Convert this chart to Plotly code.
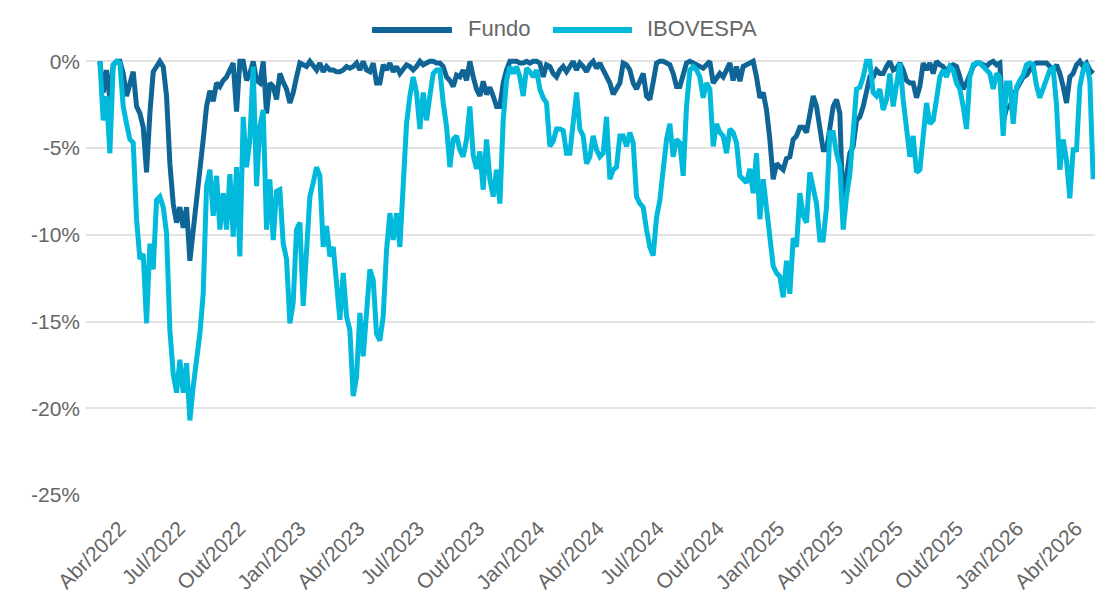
import pandas as pd
import plotly.graph_objects as go

# ---- data (drawdown, %) sampled at regular intervals between start and end ----
start_date = "2022-03-02"
end_date = "2026-04-27"

fundo = [
    0, -1.8, -0.5, -2.2, -0.2, 0, 0, -0.7, -2.0, -1.25,
    -0.6, -2.6, -3.0, -3.8, -6.4, -3.0, -0.6, -0.3, 0, -0.3,
    -2.0, -5.9, -8.2, -9.3, -8.4, -9.6, -8.4, -11.5, -9.5, -8.0,
    -6.25, -4.5, -2.6, -1.7, -2.3, -1.25, -1.45, -1.1, -0.9, -0.5,
    -0.1, -2.9, 0, 0, -1.1, -0.7, 0, -1.1, -1.25, 0,
    -3.0, -1.25, -1.45, -2.2, -0.7, -1.2, -1.6, -2.4, -1.8, -0.9,
    -0.1, -0.2, -0.3, 0, -0.3, -0.5, -0.1, -0.6, -0.3, -0.5,
    -0.5, -0.6, -0.6, -0.5, -0.3, -0.4, -0.3, -0.1, -0.5, 0,
    -0.5, -0.6, -0.1, -1.25, -1.25, -0.2, -0.5, -0.1, -0.6, -0.3,
    -0.7, -0.4, -0.2, -0.3, -0.5, -0.3, 0, -0.2, -0.1, 0,
    0, -0.1, -0.1, -0.3, -0.9, -1.1, -1.45, -0.8, -0.9, -0.5,
    -1.1, 0, -0.9, -1.6, -2.0, -1.15, -1.9, -1.5, -2.0, -2.6,
    -2.6, -1.25, -0.5, 0, 0, 0, -0.1, -0.1, 0, -0.1,
    0, 0, -0.1, -0.9, -0.2, -0.3, -0.7, -0.9, -0.5, -0.3,
    -0.6, -0.3, 0, -0.5, -0.1, -0.3, -0.6, -0.2, 0, -0.4,
    -0.1, -0.5, -0.9, -1.25, -1.9, -1.6, -1.25, -0.1, -0.2, -0.5,
    -1.25, -1.6, -1.1, -0.7, -2.0, -2.2, -1.2, -0.1, 0, 0,
    -0.1, -0.2, -0.7, -1.45, -1.45, -0.7, -0.1, 0, -0.1, -0.2,
    -0.3, -0.4, -0.2, 0, -1.25, -1.0, -0.7, -0.9, -0.4, -0.1,
    -1.1, -0.3, -1.15, -0.3, -0.2, -0.1, 0, -0.9, -2.1, -1.8,
    -2.8, -4.5, -6.8, -5.9, -6.1, -6.25, -5.6, -5.5, -4.5, -4.3,
    -3.8, -3.8, -4.1, -3.0, -2.0, -2.6, -4.1, -5.1, -5.1, -3.9,
    -2.6, -2.2, -3.0, -9.0, -6.6, -5.3, -4.9, -3.4, -3.2, -2.6,
    -1.6, -0.9, -0.9, -0.5, -0.7, -0.7, -0.3, 0, -0.5, -0.4,
    -0.1, -0.5, -1.1, -1.25, -1.25, -2.1, -1.45, -0.1, -0.5, -0.1,
    -0.7, 0, -0.2, -0.3, -0.6, -0.3, -0.2, -0.3, -0.9, -1.6,
    -1.25, -0.7, -0.3, -0.1, -0.1, -0.2, -0.3, -0.1, 0, -0.2,
    -0.1, -3.5, -2.7, -2.6, -2.0, -1.6, -1.25, -0.9, -0.8, -0.5,
    -0.2, -0.1, -0.1, -0.1, -0.1, -0.3, -0.5, -0.2, -0.7, -1.45,
    -2.4, -0.9, -0.7, -0.2, 0, -0.3, -0.1, -0.5, -0.7,
]

ibovespa = [
    0, -3.4, -2.0, -5.3, -0.2, 0, -0.1, -2.6, -3.6, -4.5,
    -4.7, -9.1, -11.4, -11.1, -15.1, -10.5, -12.0, -8.0, -7.8, -8.4,
    -9.9, -15.5, -18.0, -19.1, -17.2, -19.1, -17.4, -20.7, -18.75, -17.4,
    -15.7, -13.4, -7.2, -6.25, -8.9, -6.6, -9.7, -7.6, -9.7, -6.5,
    -10.1, -6.1, -11.25, -3.2, -6.1, -4.5, -0.3, -7.2, -3.75, -2.8,
    -9.7, -6.8, -10.3, -7.5, -7.4, -10.5, -11.4, -15.1, -13.9, -9.7,
    -9.3, -14.1, -10.3, -7.8, -7.0, -6.1, -6.6, -10.7, -9.5, -11.25,
    -10.7, -12.8, -14.9, -12.2, -14.7, -15.5, -19.3, -18.2, -14.5, -17.0,
    -14.1, -12.0, -12.6, -15.7, -16.1, -14.7, -10.9, -8.75, -10.3, -8.75,
    -10.7, -7.2, -3.6, -2.0, -0.9, -1.8, -3.9, -1.8, -3.4, -2.0,
    -0.7, -0.5, -0.5, -2.4, -3.75, -6.1, -4.5, -4.3, -5.1, -5.5,
    -4.5, -2.6, -5.4, -6.2, -5.2, -7.4, -4.5, -6.8, -7.8, -6.25,
    -8.2, -3.4, -1.1, -0.3, -0.7, -0.3, -0.9, -2.0, -0.4, -0.6,
    -0.9, -0.5, -1.6, -2.1, -2.4, -4.9, -4.6, -3.9, -3.9, -4.0,
    -5.3, -5.3, -3.2, -1.8, -3.9, -4.3, -5.9, -5.5, -4.3, -5.1,
    -5.5, -5.3, -3.2, -6.8, -6.25, -6.1, -4.3, -4.3, -4.9, -4.1,
    -4.7, -7.8, -8.2, -8.4, -9.7, -10.7, -11.2, -9.0, -8.0, -6.0,
    -4.5, -3.6, -5.5, -4.5, -4.7, -6.6, -2.6, -0.5, -0.3, -0.5,
    -0.9, -2.1, -1.25, -1.6, -4.9, -3.6, -4.1, -4.3, -5.3, -3.9,
    -4.1, -4.7, -6.6, -6.8, -7.0, -6.2, -7.6, -5.3, -9.1, -6.8,
    -8.6, -10.3, -11.8, -12.2, -12.4, -13.6, -11.5, -13.4, -10.2, -10.7,
    -7.6, -8.9, -9.3, -6.4, -7.2, -8.2, -10.3, -10.3, -8.4, -4.1,
    -4.1, -5.3, -6.0, -9.7, -7.8, -6.5, -4.1, -1.6, -1.5, -0.9,
    0, 0, -1.8, -2.0, -1.6, -2.8, -2.2, -0.7, -2.6, -1.25,
    -0.1, -2.2, -4.1, -5.5, -4.3, -6.4, -6.25, -4.5, -2.4, -3.6,
    -3.4, -2.2, -0.9, -0.5, -0.9, -0.3, -0.5, -1.25, -1.6, -2.6,
    -3.9, -0.9, -0.2, -0.1, -0.1, -0.3, -0.5, -0.7, -1.6, -0.7,
    -0.9, -4.3, -1.25, -1.25, -3.6, -1.5, -1.1, -0.8, -0.2, -0.1,
    -0.2, -1.4, -2.1, -1.6, -0.9, -0.5, -0.4, -2.5, -6.25, -4.5,
    -5.7, -7.9, -5.1, -5.1, -1.45, -0.5, -0.1, -1.1, -6.8,
]

tick_dates = ["2022-04-01", "2022-07-01", "2022-10-01", "2023-01-01", "2023-04-01",
              "2023-07-01", "2023-10-01", "2024-01-01", "2024-04-01", "2024-07-01",
              "2024-10-01", "2025-01-01", "2025-04-01", "2025-07-01", "2025-10-01",
              "2026-01-01", "2026-04-01"]
tick_labels = ["Abr/2022", "Jul/2022", "Out/2022", "Jan/2023", "Abr/2023",
               "Jul/2023", "Out/2023", "Jan/2024", "Abr/2024", "Jul/2024",
               "Out/2024", "Jan/2025", "Abr/2025", "Jul/2025", "Out/2025",
               "Jan/2026", "Abr/2026"]
y_ticks = [0, -5, -10, -15, -20, -25]
y_labels = ["0%", "-5%", "-10%", "-15%", "-20%", "-25%"]

series_names = ["Fundo", "IBOVESPA"]
colors = ["#0F6596", "#00B9DB"]

dates = pd.date_range(start=start_date, end=end_date, periods=len(fundo))

FONT = "Liberation Sans, Arial, sans-serif"
GRAY = "#666666"

fig = go.Figure()
for name, vals, col in zip(series_names, [fundo, ibovespa], colors):
    fig.add_trace(go.Scatter(x=dates, y=vals, name=name, mode="lines",
                             line=dict(color=col, width=5),
                             showlegend=False))

# custom legend (long swatches)
leg_y = 1.0616
fig.add_shape(type="line", xref="paper", yref="paper", x0=0.2834, x1=0.3627,
              y0=leg_y, y1=leg_y, line=dict(color=colors[0], width=6))
fig.add_shape(type="line", xref="paper", yref="paper", x0=0.4628, x1=0.5411,
              y0=leg_y, y1=leg_y, line=dict(color=colors[1], width=6))
fig.add_annotation(x=0.3766, y=1.065, xref="paper", yref="paper", text=series_names[0],
                   showarrow=False, xanchor="left", yanchor="middle",
                   font=dict(family=FONT, size=22, color=GRAY))
fig.add_annotation(x=0.5540, y=1.065, xref="paper", yref="paper", text=series_names[1],
                   showarrow=False, xanchor="left", yanchor="middle",
                   font=dict(family=FONT, size=22, color=GRAY))

fig.update_layout(
    width=1095, height=606,
    margin=dict(l=86, r=0, t=57, b=111),
    paper_bgcolor="white", plot_bgcolor="white",
    font=dict(family=FONT, color=GRAY),
    showlegend=False,
    xaxis=dict(type="date", range=["2022-02-08 19:00", "2026-04-29 19:00"],
               tickvals=tick_dates, ticktext=tick_labels, tickangle=-45,
               showgrid=False, zeroline=False, showline=False, ticks="",
               ticklabelstandoff=16,
               tickfont=dict(family=FONT, size=21, color=GRAY)),
    yaxis=dict(range=[-25, 0.25], tickvals=y_ticks, ticktext=y_labels,
               showgrid=True, gridcolor="#e3e3e3", gridwidth=1.5,
               zeroline=False, showline=False, ticks="",
               ticklabelstandoff=5,
               tickfont=dict(family=FONT, size=21, color=GRAY)),
)

fig.write_html("out.html",
               config={"displayModeBar": False},
               post_script="document.body.style.margin='0';"
                           "document.body.style.overflow='hidden';")
